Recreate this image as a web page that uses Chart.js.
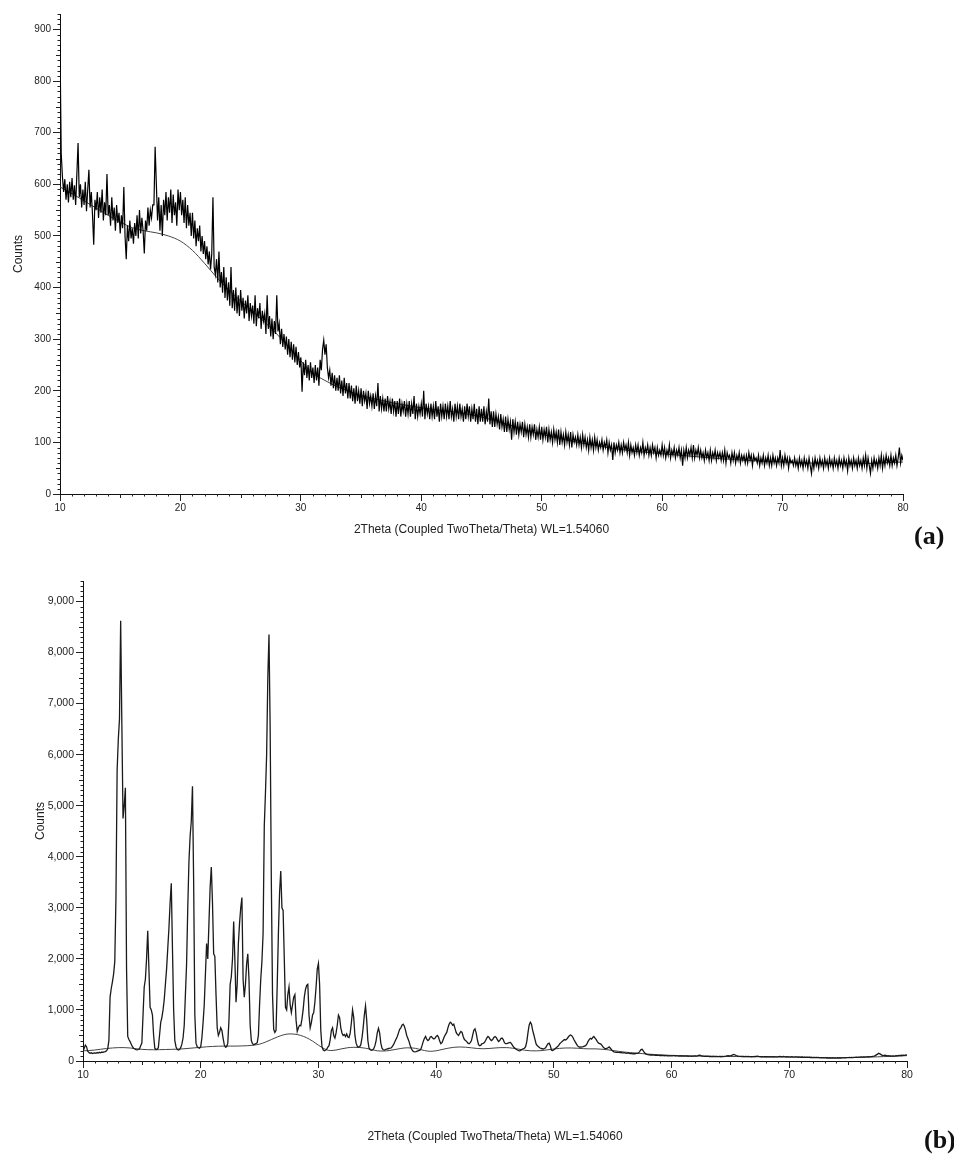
<!DOCTYPE html>
<html>
<head>
<meta charset="utf-8">
<script src="https://cdn.jsdelivr.net/npm/chart.js@4.4.1/dist/chart.umd.min.js"></script>
<style>
  body { margin: 0; background: #fff; overflow: hidden; }
  #page { position: relative; width: 954px; height: 1155px; overflow: hidden; }
  canvas { position: absolute; left: 0; }
  .tag { position: absolute; font: bold 26px 'Liberation Serif', 'Times New Roman', serif; color: #111; line-height: 1; white-space: nowrap; }
</style>
</head>
<body>
<div id="page">
  <canvas id="xrd-a" width="954" height="548" style="top:0"></canvas>
  <canvas id="xrd-b" width="954" height="607" style="top:548px"></canvas>
  <div class="tag" style="left:914px;top:523px">(a)</div>
  <div class="tag" style="left:924px;top:1127px">(b)</div>
</div>
<script>
// scan grid: 2theta from 10 to 80 deg, 0.1 deg step
const scanStart = 10;
const scanStep = 0.1;
const xTitle = '2Theta (Coupled TwoTheta/Theta) WL=1.54060';
const yTitle = 'Counts';
const xTicks = [10, 20, 30, 40, 50, 60, 70, 80];
const yTicksA = [0, 100, 200, 300, 400, 500, 600, 700, 800, 900];
const yTicksB = [0, 1000, 2000, 3000, 4000, 5000, 6000, 7000, 8000, 9000];

// (a) raw counts, one row per degree (10.0 .. 79.9), last value = 80.0
const countsA = [
  870, 660, 615, 585, 610, 570, 600, 565, 605, 575,
  612, 570, 598, 560, 620, 680, 575, 600, 555, 590,
  560, 605, 548, 590, 628, 555, 585, 540, 483, 570,
  550, 585, 535, 575, 545, 590, 530, 565, 540, 620,
  540, 560, 520, 575, 530, 555, 510, 560, 525, 545,
  505, 540, 515, 595, 500, 455, 520, 490, 530, 495,
  515, 485, 525, 500, 540, 495, 550, 505, 535, 510,
  466, 530, 510, 555, 520, 550, 535, 560, 560, 673,
  600, 530, 575, 510, 560, 500, 570, 540, 585, 530,
  575, 545, 590, 525, 580, 540, 565, 520, 590, 550,
  585, 540, 570, 525, 575, 515, 560, 520, 545, 500,
  545, 495, 530, 480, 515, 490, 520, 470, 500, 465,
  490, 455, 480, 445, 470, 435, 465, 575, 440, 425,
  455, 410, 470, 400, 430, 390, 440, 380, 420, 375,
  410, 365, 440, 360, 395, 355, 400, 350, 385, 345,
  395, 355, 380, 340, 375, 350, 385, 335, 370, 345,
  365, 330, 385, 325, 360, 340, 370, 320, 355, 335,
  350, 310, 385, 320, 345, 305, 340, 300, 335, 310,
  385, 315, 330, 290, 320, 285, 310, 280, 305, 270,
  300, 265, 295, 260, 290, 255, 285, 250, 275, 245,
  265, 198, 255, 230, 260, 225, 250, 220, 255, 225,
  245, 215, 250, 220, 245, 210, 260, 240, 280, 298,
  270, 290, 245, 225, 240, 210, 235, 205, 230, 200,
  225, 200, 230, 195, 220, 190, 225, 195, 215, 185,
  215, 185, 210, 180, 205, 175, 210, 180, 200, 175,
  205, 170, 200, 180, 195, 165, 200, 175, 190, 170,
  195, 165, 190, 170, 215, 160, 190, 165, 185, 160,
  185, 160, 190, 165, 180, 155, 185, 160, 180, 150,
  180, 155, 185, 150, 175, 160, 180, 150, 175, 155,
  180, 150, 175, 155, 190, 145, 175, 150, 170, 155,
  175, 150, 200, 145, 175, 155, 170, 145, 175, 150,
  170, 145, 180, 150, 170, 140, 175, 150, 170, 145,
  175, 150, 170, 145, 180, 150, 165, 140, 175, 150,
  170, 145, 175, 150, 165, 140, 170, 145, 175, 150,
  170, 140, 165, 145, 175, 140, 165, 135, 170, 140,
  165, 140, 170, 135, 160, 140, 185, 135, 160, 130,
  160, 130, 155, 135, 150, 125, 155, 130, 145, 120,
  150, 120, 145, 125, 140, 105, 145, 120, 140, 115,
  140, 115, 135, 120, 140, 110, 135, 115, 130, 110,
  135, 110, 130, 115, 135, 105, 125, 110, 130, 105,
  130, 105, 125, 110, 130, 100, 125, 105, 120, 100,
  125, 105, 120, 100, 125, 95, 120, 100, 115, 95,
  120, 100, 115, 95, 120, 90, 115, 100, 110, 95,
  115, 95, 110, 90, 115, 95, 110, 90, 105, 85,
  110, 90, 105, 85, 110, 90, 105, 85, 100, 90,
  105, 85, 100, 90, 105, 80, 100, 85, 95, 66,
  100, 80, 95, 85, 100, 80, 95, 80, 100, 85,
  95, 80, 100, 75, 95, 80, 90, 75, 95, 80,
  95, 75, 90, 80, 100, 75, 90, 80, 95, 75,
  90, 75, 95, 80, 90, 70, 90, 75, 85, 75,
  95, 75, 90, 70, 85, 75, 95, 70, 85, 75,
  90, 70, 85, 75, 90, 70, 85, 55, 85, 70,
  90, 70, 85, 75, 90, 70, 95, 70, 85, 75,
  90, 70, 85, 70, 80, 65, 85, 70, 80, 65,
  85, 65, 80, 70, 85, 65, 80, 70, 80, 65,
  80, 65, 85, 60, 80, 70, 75, 60, 80, 65,
  80, 60, 75, 65, 80, 60, 75, 65, 75, 60,
  75, 60, 80, 65, 75, 55, 75, 65, 70, 60,
  75, 55, 70, 60, 75, 55, 70, 60, 75, 55,
  70, 55, 75, 60, 70, 55, 70, 60, 85, 55,
  70, 55, 75, 60, 70, 50, 70, 60, 65, 55,
  70, 55, 65, 50, 70, 55, 65, 50, 70, 55,
  65, 50, 70, 55, 40, 65, 50, 70, 55, 65,
  50, 70, 55, 65, 50, 70, 55, 65, 50, 70,
  55, 65, 50, 70, 55, 65, 50, 70, 55, 65,
  50, 70, 55, 65, 45, 70, 55, 65, 50, 70,
  55, 65, 50, 70, 55, 65, 50, 70, 55, 75,
  50, 70, 55, 40, 65, 50, 70, 55, 65, 50,
  70, 55, 75, 50, 70, 55, 75, 60, 70, 55,
  75, 55, 70, 60, 75, 55, 70, 90, 60, 75,
  65
];

// (a) fitted background, 1 deg steps 10..80
const bgA = [
  595, 582, 568, 554, 540, 527, 516, 510, 506, 500,
  490, 472, 447, 420, 396, 374, 354, 333, 310, 285,
  258, 234, 220, 208, 199, 191, 185, 180, 175, 171,
  167, 164, 161, 158, 154, 149, 143, 136, 129, 122,
  116, 110, 105, 100, 96, 92, 88, 85, 82, 80,
  78, 76, 74, 72, 70, 68, 67, 65, 64, 63,
  62, 61, 60, 60, 59, 59, 59, 59, 60, 61,
  62
];

// (b) raw counts, one row per degree (10.0 .. 79.9), last value = 80.0
const countsB = [
  190, 250, 310, 280, 190, 165, 150, 160, 145, 155,
  160, 150, 165, 155, 170, 160, 175, 170, 180, 185,
  200, 240, 400, 1250, 1420, 1550, 1700, 1950, 3200, 5700,
  6300, 6700, 8620, 6600, 4750, 5000, 5350, 1800, 480, 420,
  380, 330, 280, 250, 235, 225, 220, 225, 240, 300,
  350, 900, 1450, 1600, 2000, 2550, 1800, 1050, 1000, 900,
  500, 250, 225, 230, 260, 500, 750, 850, 1000, 1200,
  1500, 1800, 2200, 2600, 3100, 3480, 2200, 1000, 400, 280,
  230, 215, 225, 260, 330, 450, 700, 1300, 1900, 3000,
  3900, 4400, 4700, 5380, 3500, 900, 350, 280, 260, 250,
  280, 450, 750, 1100, 1700, 2300, 2000, 2700, 3400, 3800,
  3100, 2100, 2050, 1300, 650, 500, 560, 650, 600, 450,
  320, 270, 280, 350, 800, 1500, 1650, 2000, 2730, 2000,
  1150, 1500, 2300, 2700, 3000, 3200, 1600, 1250, 1500, 1900,
  2100, 1600, 700, 400, 340, 320, 330, 340, 360, 500,
  1100, 1600, 1950, 2500, 4600, 5250, 6000, 7500, 8350, 6500,
  3500, 1300, 620, 560, 600, 1500, 2500, 3300, 3720, 3000,
  2950, 2000, 1050, 1000, 1300, 1450, 1100, 950, 1100, 1250,
  1300, 800, 580, 650, 700, 690, 820, 1000, 1250, 1400,
  1480, 1500, 900, 650, 750, 900, 950, 1150, 1450, 1800,
  1910, 1500, 600, 280, 220, 200, 210, 230, 270, 300,
  420, 600, 650, 500, 450, 550, 700, 900, 850, 650,
  550, 500, 520, 480, 530, 470, 460, 550, 750, 1000,
  850, 500, 350, 290, 270, 280, 320, 450, 650, 900,
  1080, 800, 400, 250, 220, 210, 215, 240, 300, 400,
  550, 640, 550, 350, 250, 220, 215, 225, 235, 240,
  245, 250, 260, 290, 330, 380, 430, 480, 550, 620,
  650, 700, 720, 680, 600, 500, 440, 380, 300, 240,
  200, 185, 180, 185, 195, 205, 210, 230, 300, 380,
  440, 480, 430, 400, 420, 470, 480, 450, 430, 445,
  480, 500, 470, 390, 340, 360, 420, 480, 520, 560,
  650, 720, 760, 740, 700, 720, 640, 560, 520, 500,
  540, 580, 560, 480, 420, 400, 380, 350, 340, 360,
  400, 500, 600, 630, 550, 420, 320, 300, 310, 340,
  345, 360, 400, 450, 480, 460, 420, 400, 420, 460,
  480, 460, 420, 380, 400, 440, 450, 420, 360, 340,
  342, 350, 360, 365, 340, 300, 270, 250, 230, 215,
  205, 200, 210, 230, 240, 250, 280, 380, 550, 700,
  760, 720, 600, 514, 420, 330, 300, 280, 260, 245,
  240, 235, 245, 260, 300, 340, 350, 300, 210, 205,
  220, 240, 260, 280, 300, 340, 360, 380, 400, 420,
  410, 430, 460, 490, 510, 500, 470, 420, 380, 340,
  300, 280, 274, 270, 275, 280, 290, 300, 330, 380,
  420, 445, 430, 460, 480, 450, 420, 380, 350, 340,
  330, 300, 270, 250, 240, 245, 260, 275, 250, 220,
  195, 180, 175, 170, 172, 168, 165, 170, 160, 158,
  162, 155, 150, 158, 150, 145, 148, 140, 145, 142,
  148, 150, 160, 190, 225, 230, 200, 160, 140, 130,
  125, 120, 118, 122, 115, 118, 112, 115, 110, 112,
  108, 112, 105, 110, 103, 108, 100, 106, 102, 100,
  105, 100, 108, 98, 104, 100, 96, 102, 98, 100,
  96, 100, 95, 99, 93, 97, 95, 92, 96, 94,
  98, 95, 100, 110, 116, 105, 98, 95, 92, 95,
  90, 94, 88, 92, 86, 90, 88, 85, 90, 87,
  85, 88, 84, 90, 86, 92, 95, 100, 105, 98,
  100, 110, 120, 130, 118, 105, 98, 94, 92, 90,
  88, 92, 86, 90, 85, 88, 84, 87, 83, 86,
  84, 88, 92, 95, 90, 86, 83, 86, 82, 85,
  83, 86, 80, 84, 82, 85, 80, 83, 79, 82,
  80, 84, 88, 85, 82, 89, 84, 80, 83, 79,
  82, 78, 84, 80, 77, 82, 79, 76, 80, 77,
  74, 78, 73, 76, 72, 75, 70, 73, 69, 72,
  68, 71, 66, 70, 65, 68, 63, 66, 62, 65,
  60, 63, 58, 62, 57, 60, 56, 59, 55, 58,
  57, 60, 56, 59, 58, 62, 60, 64, 62, 66,
  65, 68, 66, 70, 68, 72, 70, 74, 72, 76,
  75, 78, 76, 80, 78, 82, 80, 84, 82, 86,
  85, 90, 95, 105, 120, 135, 150, 140, 125, 110,
  105, 115, 110, 100, 105, 98, 102, 96, 100, 95,
  98, 104, 100, 110, 106, 112, 108, 115, 110, 118,
  115
];

// (b) fitted background, 0.5 deg steps 10..80
const bgB = [
  200, 205, 215, 230, 245, 255, 262, 262, 255, 240,
  228, 222, 220, 222, 225, 228, 232, 238, 248, 258,
  268, 278, 285, 290, 292, 292, 292, 295, 300, 310,
  330, 370, 420, 470, 510, 530, 525, 500, 455, 390,
  310, 240, 205, 215, 240, 260, 268, 265, 250, 225,
  200, 195, 205, 225, 245, 258, 255, 235, 205, 190,
  200, 225, 250, 268, 275, 270, 258, 245, 240, 245,
  255, 262, 262, 250, 232, 212, 200, 198, 205, 220,
  235, 248, 255, 255, 250, 242, 238, 238, 232, 222,
  205, 190, 175, 165, 155, 145, 135, 128, 120, 115,
  110, 106, 103, 100, 98, 96, 94, 92, 90, 89,
  88, 87, 86, 85, 84, 83, 82, 81, 80, 79,
  78, 77, 75, 73, 71, 69, 67, 66, 66, 67,
  68, 70, 72, 75, 78, 82, 86, 90, 95, 100,
  105
];

function toPoints(values, start, step) {
  return values.map((v, i) => ({ x: +(start + i * step).toFixed(2), y: v }));
}

Chart.defaults.font.family = "'Liberation Sans', Arial, sans-serif";
Chart.defaults.color = '#222';

// small tick marks between the labelled ones
const minorTicks = {
  id: 'minorTicks',
  afterDraw(chart, args, opts) {
    const ctx = chart.ctx;
    const area = chart.chartArea;
    ctx.save();
    ctx.strokeStyle = '#222';
    ctx.lineWidth = 1;
    ctx.beginPath();
    ['x', 'y'].forEach(id => {
      const scale = chart.scales[id];
      const o = opts[id];
      const n = Math.round((scale.max - scale.min) / o.step);
      for (let i = 0; i <= n; i++) {
        const v = scale.min + i * o.step;
        const k = Math.round(v / o.step);
        if (k % o.major === 0) continue;
        const len = k % o.mid === 0 ? 4 : 2.5;
        const p = Math.round(scale.getPixelForValue(v)) + 0.5;
        if (id === 'x') {
          ctx.moveTo(p, area.bottom);
          ctx.lineTo(p, area.bottom + len);
        } else {
          ctx.moveTo(area.left, p);
          ctx.lineTo(area.left - len, p);
        }
      }
    });
    ctx.stroke();
    ctx.restore();
  }
};

function makeChart(id, cfg) {
  return new Chart(document.getElementById(id), {
    type: 'line',
    data: {
      datasets: [
        {
          data: toPoints(cfg.counts, scanStart, scanStep),
          borderColor: cfg.lineColor,
          borderWidth: cfg.lineWidth,
          pointRadius: 0,
          tension: 0
        },
        {
          data: toPoints(cfg.bg, scanStart, cfg.bgStep),
          borderColor: '#444',
          borderWidth: 1,
          pointRadius: 0,
          cubicInterpolationMode: 'monotone'
        }
      ]
    },
    options: {
      responsive: false,
      animation: false,
      devicePixelRatio: 1,
      locale: 'en-US',
      layout: { padding: cfg.padding },
      plugins: {
        legend: { display: false },
        tooltip: { enabled: false },
        minorTicks: cfg.minor
      },
      scales: {
        x: {
          type: 'linear',
          min: 10,
          max: 80,
          afterFit: s => { s.height = cfg.xHeight; },
          afterBuildTicks: s => { s.ticks = xTicks.map(v => ({ value: v })); },
          grid: { drawOnChartArea: false, tickLength: 7, tickColor: '#222' },
          border: { color: '#111', width: 1 },
          ticks: { padding: 1, maxRotation: 0, autoSkip: false, font: { size: cfg.tickSize } },
          title: { display: true, text: xTitle, font: { size: 12 }, padding: { top: 0, bottom: 11 } }
        },
        y: {
          min: 0,
          max: cfg.yMax,
          afterFit: s => { s.width = cfg.yWidth; },
          afterBuildTicks: s => { s.ticks = cfg.yTicks.map(v => ({ value: v })); },
          grid: { drawOnChartArea: false, tickLength: 7, tickColor: '#222' },
          border: { color: '#111', width: 1 },
          ticks: { padding: 2, autoSkip: false, font: { size: cfg.tickSize } },
          title: { display: true, text: yTitle, font: { size: 12 }, padding: { top: cfg.yTitlePad, bottom: 0 } }
        }
      }
    },
    plugins: [minorTicks]
  });
}

makeChart('xrd-a', {
  counts: countsA, bg: bgA, bgStep: 1,
  lineColor: '#000', lineWidth: 1.2,
  padding: { left: 0, right: 51, top: 14, bottom: 0 },
  xHeight: 54, yWidth: 60, yMax: 930, yTicks: yTicksA, yTitlePad: 11, tickSize: 10,
  minor: { x: { step: 1, mid: 5, major: 10 }, y: { step: 10, mid: 5, major: 10 } }
});

makeChart('xrd-b', {
  counts: countsB, bg: bgB, bgStep: 0.5,
  lineColor: '#1a1a1a', lineWidth: 1.3,
  padding: { left: 0, right: 47, top: 33, bottom: 0 },
  xHeight: 94, yWidth: 83, yMax: 9400, yTicks: yTicksB, yTitlePad: 33, tickSize: 10.5,
  minor: { x: { step: 1, mid: 5, major: 10 }, y: { step: 100, mid: 5, major: 10 } }
});
</script>
</body>
</html>
